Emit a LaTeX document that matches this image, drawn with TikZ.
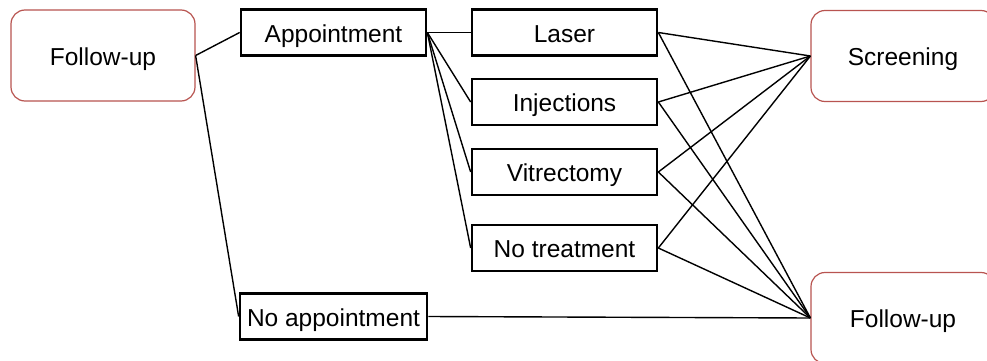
\documentclass[tikz,border=0pt]{standalone}
\usepackage{fontspec}
\setmainfont{Liberation Sans}
\definecolor{stagered}{HTML}{B85450}
\begin{document}
\begin{tikzpicture}[x=1pt,y=-1pt,
  every node/.style={font=\fontsize{24.5}{28}\selectfont, inner sep=0pt,
    text height=20pt, text depth=1pt},
  stage/.style={draw=stagered, line width=1.2pt, rounded corners=14pt,
    fill=white, minimum width=184pt, minimum height=91pt},
  choice/.style={draw=black, line width=2.7pt, fill=white,
    minimum width=185pt, minimum height=46pt},
  link/.style={line width=1.4pt, black}]
  \useasboundingbox (0,0) rectangle (987,361);
  \clip (0,0) rectangle (987,361);

  % stages
  \node[stage] (fu) at (103,55.5) {Follow-up};
  \node[stage] (scr) at (903,56) {Screening};
  \node[stage] (fu2) at (903,318) {Follow-up};

  % appointment choice
  \node[choice] (appt) at (333.5,32.5) {Appointment};
  \node[choice, minimum width=187pt] (noappt) at (333.5,316.5) {No appointment};

  % treatments
  \node[choice] (laser) at (564.5,32.5) {Laser};
  \node[choice] (inj) at (564.5,102) {Injections};
  \node[choice] (vit) at (564.5,172) {Vitrectomy};
  \node[choice] (notr) at (564.5,248) {No treatment};

  % connectors
  \draw[link] (fu.east) -- (appt.west);
  \draw[link] (fu.east) -- (noappt.west);
  \foreach \t in {laser,inj,vit,notr} {
    \draw[link] (appt.east) -- (\t.west);
    \draw[link] (\t.east) -- (scr.west);
    \draw[link] (\t.east) -- (fu2.west);
  }
  \draw[link] (noappt.east) -- (fu2.west);
\end{tikzpicture}
\end{document}
